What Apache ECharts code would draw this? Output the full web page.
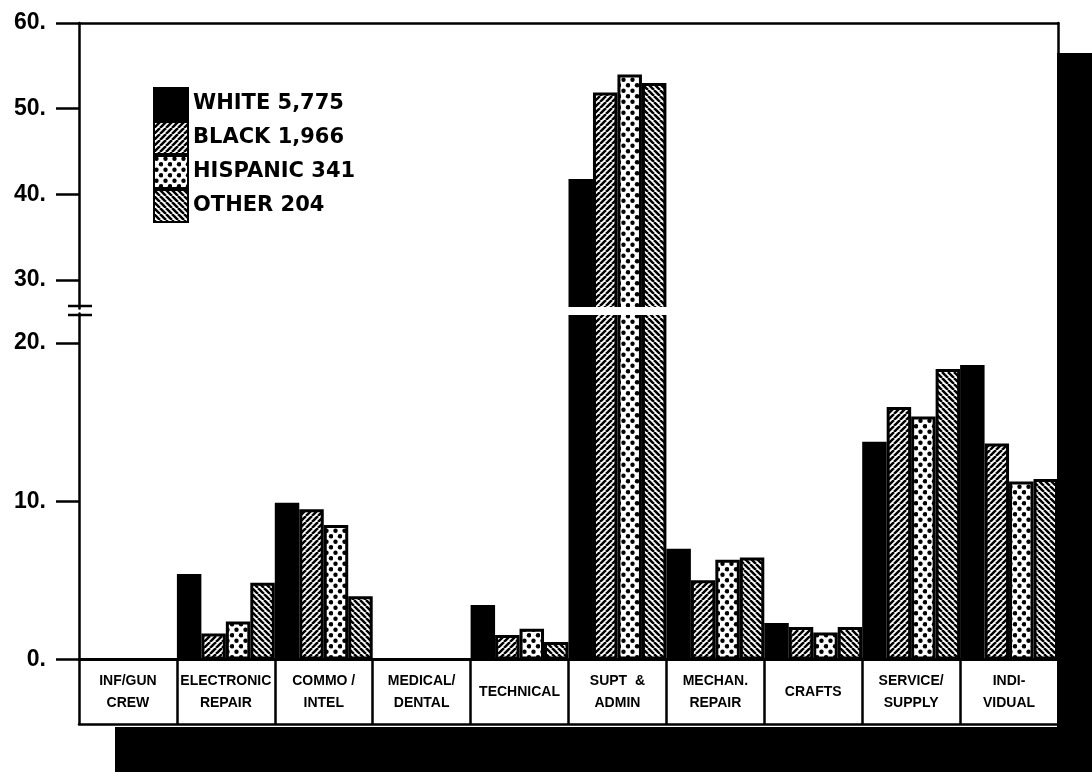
<!DOCTYPE html>
<html>
<head>
<meta charset="utf-8">
<script src="https://cdn.jsdelivr.net/npm/echarts@6/dist/echarts.min.js"></script>
<style>
  html, body { margin: 0; background: #fff; }
  #chart { width: 1092px; height: 772px; }
</style>
</head>
<body>
<div id="chart"></div>
<script>
  // data (percent of each group)
  const categories = ['INF/GUN\nCREW', 'ELECTRONIC\nREPAIR', 'COMMO /\nINTEL', 'MEDICAL/\nDENTAL', 'TECHNICAL',
    'SUPT  &\nADMIN', 'MECHAN.\nREPAIR', 'CRAFTS', 'SERVICE/\nSUPPLY', 'INDI-\nVIDUAL'];
  const seriesNames = ['WHITE 5,775', 'BLACK 1,966', 'HISPANIC 341', 'OTHER 204'];
  const white = [0, 5.4, 9.9, 0, 3.45, 41.8, 7.0, 2.3, 13.75, 18.6];
  const black = [0, 1.65, 9.5, 0, 1.55, 51.9, 5.0, 2.05, 15.95, 13.65];
  const hispanic = [0, 2.4, 8.5, 0, 1.95, 54.0, 6.3, 1.7, 15.35, 11.25];
  const other = [0, 4.85, 4.0, 0, 1.1, 53.0, 6.45, 2.05, 18.35, 11.4];
  const lowerTicks = [0, 10, 20];
  const upperTicks = [30, 40, 50, 60];

  const lowerMax = 21.86;
  const upperMin = 26.67;

  function hatch(dir) {
    const s = 6;
    const c = document.createElement('canvas');
    c.width = s; c.height = s;
    const g = c.getContext('2d');
    g.fillStyle = '#fff';
    g.fillRect(0, 0, s, s);
    g.strokeStyle = '#000';
    g.lineWidth = 2.5;
    g.beginPath();
    [-s, 0, s].forEach(function (k) {
      if (dir > 0) { g.moveTo(k, s); g.lineTo(k + s, 0); }
      else { g.moveTo(k, 0); g.lineTo(k + s, s); }
    });
    g.stroke();
    return { image: c, repeat: 'repeat' };
  }

  function dots() {
    const c = document.createElement('canvas');
    c.width = 9; c.height = 11;
    const g = c.getContext('2d');
    g.fillStyle = '#fff';
    g.fillRect(0, 0, 9, 11);
    g.fillStyle = '#000';
    [[2.5, 2.75], [7, 8.25]].forEach(function (p) {
      g.beginPath();
      g.arc(p[0], p[1], 2.2, 0, Math.PI * 2);
      g.fill();
    });
    return { image: c, repeat: 'repeat' };
  }

  const values = [white, black, hispanic, other];
  const fills = ['#000', hatch(1), dots(), hatch(-1)];

  let series = [];
  seriesNames.forEach(function (name, i) {
    const style = { color: fills[i], borderColor: '#000', borderWidth: 3 };
    series.push({
      name: name, type: 'bar', xAxisIndex: 0, yAxisIndex: 0,
      data: values[i], barGap: '0%', barCategoryGap: '0%', itemStyle: style
    });
    series.push({
      name: name, type: 'bar', xAxisIndex: 2, yAxisIndex: 1,
      data: values[i].map(function (v) { return v > upperMin ? v : '-'; }),
      barGap: '0%', barCategoryGap: '0%', itemStyle: style
    });
  });

  const yLabel = {
    fontFamily: 'Liberation Sans', fontWeight: 'bold', fontSize: 23, color: '#000', margin: 33,
    formatter: function (v) { return v + '.'; }
  };

  let chart = echarts.init(document.getElementById('chart'));
  let option = {
    animation: false,
    backgroundColor: '#fff',
    legend: {
      data: seriesNames,
      orient: 'vertical',
      left: 148,
      top: 82,
      icon: 'rect',
      itemWidth: 34,
      itemHeight: 32,
      itemGap: 0,
      itemTextGap: 7,
      selectedMode: false,
      textStyle: { fontFamily: 'DejaVu Sans', fontWeight: 'bold', fontSize: 21, color: '#000' }
    },
    grid: [
      { left: 79, right: 34, top: 313.5, bottom: 112.5 },
      { left: 79, right: 34, top: 23, bottom: 463.5 }
    ],
    xAxis: [{
      gridIndex: 0, type: 'category', data: categories, position: 'bottom',
      axisLine: { lineStyle: { color: '#000', width: 3 } },
      axisTick: { show: false },
      axisLabel: {
        interval: 0, margin: 33, verticalAlign: 'middle', lineHeight: 22,
        fontFamily: 'Liberation Sans', fontWeight: 'bold', fontSize: 14, color: '#000'
      }
    }, {
      // bottom edge of the label boxes, its ticks are the box dividers
      gridIndex: 0, type: 'category', data: categories, position: 'bottom', offset: 65,
      axisLine: { lineStyle: { color: '#000', width: 2.5 } },
      axisTick: { show: true, inside: true, interval: 0, alignWithLabel: false, length: 65,
        lineStyle: { color: '#000', width: 2.5 } },
      axisLabel: { show: false }
    }, {
      gridIndex: 1, type: 'category', data: categories, position: 'top',
      axisLine: { lineStyle: { color: '#000', width: 2.5 } },
      axisTick: { show: false }, axisLabel: { show: false }
    }],
    yAxis: [{
      gridIndex: 0, type: 'value', min: 0, max: lowerMax,
      axisLine: { show: true, lineStyle: { color: '#000', width: 2.5 } },
      axisTick: { show: true, length: 23, customValues: lowerTicks, lineStyle: { color: '#000', width: 2.5 } },
      axisLabel: Object.assign({ customValues: lowerTicks }, yLabel),
      splitLine: { show: false }
    }, {
      gridIndex: 1, type: 'value', min: upperMin, max: 60,
      axisLine: { show: true, lineStyle: { color: '#000', width: 2.5 } },
      axisTick: { show: true, length: 23, customValues: upperTicks, lineStyle: { color: '#000', width: 2.5 } },
      axisLabel: Object.assign({ customValues: upperTicks }, yLabel),
      splitLine: { show: false }
    }, {
      gridIndex: 1, type: 'value', min: upperMin, max: 60, position: 'right',
      axisLine: { show: true, lineStyle: { color: '#000', width: 2.5 } },
      axisTick: { show: false }, axisLabel: { show: false }, splitLine: { show: false }
    }],
    series: series,
    graphic: [
      // break band and marks
      { type: 'rect', shape: { x: 81, y: 307, width: 975, height: 8 }, style: { fill: '#fff' }, z: 100 },
      { type: 'line', shape: { x1: 68, y1: 306, x2: 92, y2: 306 }, style: { stroke: '#000', lineWidth: 2.5 }, z: 101 },
      { type: 'line', shape: { x1: 68, y1: 315, x2: 92, y2: 315 }, style: { stroke: '#000', lineWidth: 2.5 }, z: 101 },
      // drop shadow of the page
      { type: 'rect', shape: { x: 1057, y: 53, width: 35, height: 719 }, style: { fill: '#000' }, z: 100 },
      { type: 'rect', shape: { x: 115, y: 727, width: 977, height: 45 }, style: { fill: '#000' }, z: 100 }
    ]
  };
  chart.setOption(option);
</script>
</body>
</html>
